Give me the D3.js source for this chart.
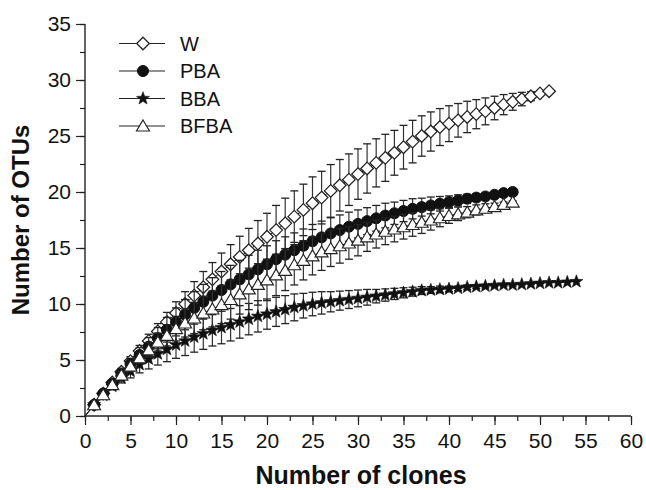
<!DOCTYPE html>
<html>
<head>
<meta charset="utf-8">
<script src="https://cdn.jsdelivr.net/npm/d3@7"></script>
<style>
  html, body { margin: 0; padding: 0; background: #fff; }
  svg { display: block; font-family: "Liberation Sans", Arial, Helvetica, sans-serif; }
</style>
</head>
<body>
<svg id="chart" width="646" height="490"></svg>
<script>
// ---- data ----
const seriesNames = ["W", "PBA", "BBA", "BFBA"];
const xTickValues = [0, 5, 10, 15, 20, 25, 30, 35, 40, 45, 50, 55, 60];
const yTickValues = [0, 5, 10, 15, 20, 25, 30, 35];
const xLabel = "Number of clones";
const yLabel = "Number of OTUs";

const wMean = [1, 2, 3, 3.95, 4.9, 5.8, 6.7, 7.55, 8.4, 9.2, 10.0, 10.75, 11.5, 12.2, 12.9, 13.55, 14.2, 14.8, 15.4, 16.0,
  16.6, 17.2, 17.8, 18.4, 19.0, 19.5, 20.1, 20.6, 21.1, 21.6, 22.1, 22.6, 23.05, 23.5, 24.0, 24.5, 25.0, 25.4, 25.8, 26.1,
  26.4, 26.7, 26.95, 27.2, 27.5, 27.8, 28.05, 28.3, 28.55, 28.8, 29.0];
const wErr = [0, 0.1, 0.2, 0.3, 0.4, 0.5, 0.6, 0.7, 0.85, 1.0, 1.1, 1.25, 1.4, 1.5, 1.65, 1.75, 1.85, 1.95, 2.05, 2.1,
  2.2, 2.25, 2.3, 2.3, 2.35, 2.35, 2.35, 2.3, 2.3, 2.25, 2.2, 2.15, 2.1, 2.0, 1.95, 1.9, 1.8, 1.75, 1.65, 1.6,
  1.5, 1.4, 1.3, 1.2, 1.05, 0.9, 0.75, 0.6, 0.4, 0.2, 0];

const pbaMean = [1, 2, 2.9, 3.8, 4.65, 5.45, 6.2, 6.95, 7.7, 8.4, 9.05, 9.65, 10.2, 10.75, 11.25, 11.75, 12.2, 12.65, 13.1, 13.55,
  14.0, 14.4, 14.8, 15.2, 15.6, 15.95, 16.3, 16.6, 16.9, 17.15, 17.4, 17.65, 17.9, 18.1, 18.3, 18.5, 18.65, 18.8, 18.95, 19.1,
  19.25, 19.4, 19.5, 19.6, 19.75, 19.9, 20.0];
const pbaErr = [0, 0.1, 0.2, 0.35, 0.5, 0.65, 0.8, 0.95, 1.1, 1.25, 1.35, 1.45, 1.55, 1.6, 1.65, 1.7, 1.7, 1.7, 1.7, 1.65,
  1.65, 1.6, 1.55, 1.5, 1.5, 1.45, 1.4, 1.35, 1.3, 1.25, 1.2, 1.15, 1.1, 1.0, 0.95, 0.9, 0.8, 0.75, 0.65, 0.55,
  0.5, 0.4, 0.35, 0.25, 0.2, 0.1, 0];

const bbaMean = [1, 1.85, 2.65, 3.4, 4.0, 4.6, 5.1, 5.55, 5.95, 6.35, 6.7, 7.05, 7.35, 7.65, 7.9, 8.15, 8.4, 8.65, 8.9, 9.1,
  9.3, 9.5, 9.7, 9.85, 10.0, 10.1, 10.2, 10.3, 10.4, 10.5, 10.6, 10.7, 10.8, 10.9, 11.0, 11.1, 11.2, 11.25, 11.3, 11.35,
  11.4, 11.5, 11.55, 11.6, 11.65, 11.7, 11.7, 11.75, 11.8, 11.85, 11.9, 11.9, 11.95, 12.0];
const bbaErr = [0, 0.15, 0.3, 0.45, 0.6, 0.75, 0.9, 1.0, 1.1, 1.2, 1.3, 1.35, 1.4, 1.4, 1.45, 1.45, 1.45, 1.4, 1.4, 1.35,
  1.3, 1.25, 1.2, 1.1, 1.05, 1.0, 0.9, 0.85, 0.8, 0.75, 0.7, 0.6, 0.55, 0.5, 0.45, 0.4, 0.35, 0.3, 0.3, 0.25,
  0.2, 0.2, 0.15, 0.15, 0.1, 0.1, 0.1, 0.05, 0.05, 0.05, 0, 0, 0, 0];

const bfbaMean = [1, 1.9, 2.8, 3.65, 4.45, 5.2, 5.9, 6.6, 7.2, 7.8, 8.3, 8.75, 9.2, 9.55, 9.95, 10.4, 10.9, 11.35, 11.75, 12.15,
  12.6, 13.0, 13.5, 13.9, 14.3, 14.65, 14.95, 15.2, 15.45, 15.7, 16.0, 16.25, 16.5, 16.7, 16.9, 17.1, 17.3, 17.5, 17.7, 17.9,
  18.05, 18.2, 18.4, 18.55, 18.7, 18.9, 19.1];
const bfbaErr = [0, 0.1, 0.2, 0.3, 0.4, 0.5, 0.65, 0.8, 0.95, 1.1, 1.25, 1.4, 1.5, 1.6, 1.7, 1.75, 1.8, 1.85, 1.85, 1.85,
  1.85, 1.8, 1.8, 1.75, 1.7, 1.65, 1.6, 1.55, 1.45, 1.4, 1.3, 1.25, 1.2, 1.15, 1.1, 1.05, 1.0, 0.9, 0.8, 0.7,
  0.6, 0.5, 0.45, 0.4, 0.3, 0.2, 0.1];

// ---- build series ----
function build(mean, err) {
  return mean.map((m, i) => ({ x: i + 1, y: m, e: err[i] }));
}
const series = [
  { name: seriesNames[0], symbol: "diamond", data: build(wMean, wErr) },
  { name: seriesNames[1], symbol: "circle", data: build(pbaMean, pbaErr) },
  { name: seriesNames[2], symbol: "star", data: build(bbaMean, bbaErr) },
  { name: seriesNames[3], symbol: "triangle", data: build(bfbaMean, bfbaErr) }
];

// ---- layout ----
const svg = d3.select("#chart");
const mLeft = 85, mRight = 631, mTop = 24, mBottom = 416;
const x = d3.scaleLinear().domain([0, 60]).range([mLeft, mRight]);
const y = d3.scaleLinear().domain([0, 35]).range([mBottom, mTop]);

// axes
const xMinor = d3.range(0, 60.01, 2.5);
const yMinor = d3.range(0, 35.01, 2.5);

const xAxisG = svg.append("g").attr("transform", `translate(0,${mBottom})`);
xAxisG.call(d3.axisBottom(x).tickValues(xMinor).tickSize(5).tickFormat(""));
xAxisG.append("g").call(d3.axisBottom(x).tickValues(xTickValues).tickSize(9).tickPadding(8).tickFormat(d3.format("d")))
  .call(g => g.selectAll("text").attr("font-size", 21).attr("fill", "#111").attr("font-family", "Liberation Sans, Arial, sans-serif"));

const yAxisG = svg.append("g").attr("transform", `translate(${mLeft},0)`);
yAxisG.call(d3.axisLeft(y).tickValues(yMinor).tickSize(5).tickFormat(""));
yAxisG.append("g").call(d3.axisLeft(y).tickValues(yTickValues).tickSize(9).tickPadding(5).tickFormat(d3.format("d")))
  .call(g => g.selectAll("text").attr("font-size", 21).attr("fill", "#111").attr("font-family", "Liberation Sans, Arial, sans-serif"));

svg.selectAll(".domain").remove();
svg.selectAll(".tick line").attr("stroke", "#222").attr("stroke-width", 1.2);
svg.append("line").attr("x1", mLeft).attr("x2", mRight).attr("y1", mBottom).attr("y2", mBottom)
  .attr("stroke", "#222").attr("stroke-width", 1.4);
svg.append("line").attr("x1", mLeft).attr("x2", mLeft).attr("y1", mTop).attr("y2", mBottom)
  .attr("stroke", "#222").attr("stroke-width", 1.4);

// axis titles
svg.append("text").attr("x", (mLeft + mRight) / 2 + 3).attr("y", 484)
  .attr("text-anchor", "middle").attr("font-weight", "bold").attr("font-size", 25).attr("fill", "#111")
  .text(xLabel);
svg.append("text").attr("transform", `translate(29,${(mTop + mBottom) / 2}) rotate(-90)`)
  .attr("text-anchor", "middle").attr("font-weight", "bold").attr("font-size", 24).attr("fill", "#111")
  .text(yLabel);

// ---- symbols ----
function starPath(ro, ri) {
  let p = "";
  for (let i = 0; i < 10; i++) {
    const r = i % 2 === 0 ? ro : ri;
    const a = -Math.PI / 2 + i * Math.PI / 5;
    p += (i === 0 ? "M" : "L") + (r * Math.cos(a)).toFixed(2) + "," + (r * Math.sin(a)).toFixed(2);
  }
  return p + "Z";
}
function drawMarker(g, sym, cx, cy) {
  if (sym === "diamond") {
    g.append("path").attr("d", "M0,-6.3L6.3,0L0,6.3L-6.3,0Z").attr("transform", `translate(${cx},${cy})`)
      .attr("fill", "#fff").attr("stroke", "#222").attr("stroke-width", 1.25);
  } else if (sym === "circle") {
    g.append("circle").attr("cx", cx).attr("cy", cy).attr("r", 5.5).attr("fill", "#111").attr("stroke", "#111");
  } else if (sym === "star") {
    g.append("path").attr("d", starPath(6.8, 2.8)).attr("transform", `translate(${cx},${cy})`)
      .attr("fill", "#111").attr("stroke", "#111").attr("stroke-width", 0.6);
  } else if (sym === "triangle") {
    g.append("path").attr("d", "M0,-6L6.5,5L-6.5,5Z").attr("transform", `translate(${cx},${cy})`)
      .attr("fill", "#fff").attr("stroke", "#222").attr("stroke-width", 1.15);
  }
}

// ---- plot ----
const line = d3.line().x(d => x(d.x)).y(d => y(d.y));
series.forEach(s => {
  const g = svg.append("g");
  const pts = [{ x: 0, y: 0 }].concat(s.data);
  g.append("path").attr("d", line(pts)).attr("fill", "none").attr("stroke", "#222").attr("stroke-width", 1);
  s.data.forEach(d => {
    if (d.e <= 0) return;
    const cx = x(d.x), y1 = y(d.y + d.e), y2 = y(d.y - d.e);
    g.append("line").attr("x1", cx).attr("x2", cx).attr("y1", y1).attr("y2", y2)
      .attr("stroke", "#333").attr("stroke-width", 1.2);
    g.append("line").attr("x1", cx - 4).attr("x2", cx + 4).attr("y1", y1).attr("y2", y1)
      .attr("stroke", "#222").attr("stroke-width", 1.3);
    g.append("line").attr("x1", cx - 4).attr("x2", cx + 4).attr("y1", y2).attr("y2", y2)
      .attr("stroke", "#222").attr("stroke-width", 1.3);
  });
  s.data.forEach(d => drawMarker(g, s.symbol, x(d.x), y(d.y)));
});

// ---- legend ----
const legY0 = 43.5, legDy = 27.5;
series.forEach((s, i) => {
  const ly = legY0 + i * legDy;
  const g = svg.append("g");
  g.append("line").attr("x1", 119).attr("x2", 165).attr("y1", ly).attr("y2", ly)
    .attr("stroke", "#222").attr("stroke-width", 1.2);
  drawMarker(g, s.symbol, 143, ly);
  g.append("text").attr("x", 180).attr("y", ly).attr("dy", "0.36em")
    .attr("font-size", 20).attr("fill", "#111").text(s.name);
});
</script>
</body>
</html>
